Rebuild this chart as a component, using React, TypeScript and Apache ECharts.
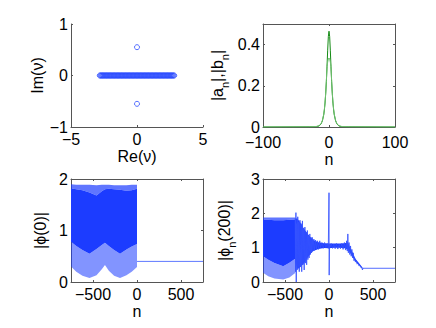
import React, { useEffect, useRef } from "react";
import * as echarts from "echarts";

// ---------- Data ----------
// Top-left: eigenvalues (real continuum + a complex pair)
const realEigRe = [
  -2.82, -2.76, -2.7, -2.64, -2.58, -2.52, -2.46, -2.4, -2.34, -2.28, -2.22, -2.16, -2.1, -2.04, -1.98,
  -1.92, -1.86, -1.8, -1.74, -1.68, -1.62, -1.56, -1.5, -1.44, -1.38, -1.32, -1.26, -1.2, -1.14, -1.08,
  -1.02, -0.96, -0.9, -0.84, -0.78, -0.72, -0.66, -0.6, -0.54, -0.48, -0.42, -0.36, -0.3, -0.24, -0.18,
  -0.12, -0.06, 0, 0.06, 0.12, 0.18, 0.24, 0.3, 0.36, 0.42, 0.48, 0.54, 0.6, 0.66, 0.72, 0.78, 0.84, 0.9,
  0.96, 1.02, 1.08, 1.14, 1.2, 1.26, 1.32, 1.38, 1.44, 1.5, 1.56, 1.62, 1.68, 1.74, 1.8, 1.86, 1.92, 1.98,
  2.04, 2.1, 2.16, 2.22, 2.28, 2.34, 2.4, 2.46, 2.52, 2.58, 2.64, 2.7, 2.76, 2.82,
];
const complexEigRe = [0, 0];
const complexEigIm = [0.55, -0.55];

// Top-right: |a_n|, |b_n|
const trN = [-100, -30, -20, -15, -12, -10, -8, -7, -6, -5, -4, -3, -2, -1, 0, 1, 2, 3, 4, 5, 6, 7, 8, 10, 12, 15, 20, 30, 100];
const absA = [0, 0.001, 0.001, 0.005, 0.015, 0.03, 0.059, 0.083, 0.116, 0.161, 0.22, 0.294, 0.373, 0.439, 0.465, 0.439, 0.373, 0.294, 0.22, 0.161, 0.116, 0.083, 0.059, 0.03, 0.015, 0.005, 0.001, 0.001, 0];
const absB = [0, 0.001, 0.002, 0.006, 0.017, 0.032, 0.062, 0.087, 0.12, 0.165, 0.224, 0.297, 0.315, 0.33, 0.335, 0.33, 0.315, 0.297, 0.224, 0.165, 0.12, 0.087, 0.062, 0.032, 0.017, 0.006, 0.002, 0.001, 0];

// Bottom-left: |phi(0)| envelopes of the dense oscillation (n <= 0) and the tail (n > 0)
const blN = [-750, -690, -620, -540, -460, -400, -364, -320, -260, -193, -120, -60, 0];
const blLightTop = [1.9, 1.89, 1.89, 1.89, 1.88, 1.89, 1.89, 1.89, 1.88, 1.88, 1.88, 1.89, 1.89];
const blDarkTop = [1.82, 1.8, 1.78, 1.74, 1.68, 1.76, 1.8, 1.81, 1.8, 1.79, 1.77, 1.78, 1.81];
const blDarkBottom = [0.78, 0.7, 0.62, 0.55, 0.64, 0.72, 0.76, 0.7, 0.62, 0.55, 0.63, 0.69, 0.74];
const blLightBottom = [0.3, 0.2, 0.12, 0.08, 0.13, 0.25, 0.33, 0.22, 0.12, 0.08, 0.13, 0.2, 0.29];
const blTailN = [0, 750];
const blTail = [0.4, 0.4];

// Bottom-right: |phi_n(200)|
const brN = [-750, -690, -620, -520, -450, -384];
const brLightTop = [1.88, 1.88, 1.88, 1.88, 1.88, 1.88];
const brDarkTop = [1.81, 1.81, 1.8, 1.8, 1.81, 1.82];
const brDarkBottom = [0.75, 0.65, 0.55, 0.46, 0.56, 0.68];
const brLightBottom = [0.27, 0.17, 0.1, 0.07, 0.13, 0.26];
const brCoreTop: [number, number][] = [
  [-384, 1.85], [-360, 1.85], [-330, 1.75], [-300, 1.62], [-270, 1.5], [-240, 1.4], [-210, 1.3],
  [-180, 1.22], [-120, 1.16], [-60, 1.13], [0, 1.12], [60, 1.12], [120, 1.12], [180, 1.13], [215, 1.16],
  [240, 1.0], [270, 0.85], [300, 0.68], [340, 0.55], [380, 0.42],
];
const brCoreBottom: [number, number][] = [
  [380, 0.38], [340, 0.5], [300, 0.6], [270, 0.72], [240, 0.85], [215, 0.95], [180, 0.98], [120, 1.0],
  [60, 1.0], [0, 0.98], [-60, 0.99], [-120, 0.96], [-180, 0.9], [-210, 0.82], [-240, 0.72], [-270, 0.6],
  [-300, 0.5], [-330, 0.42], [-360, 0.38], [-384, 0.6],
];
const brSpikeN = [
  -384, -380, -376, -372, -368, -362, -355, -350, -344, -338, -330, -324, -316, -310, -302, -296, -288, -282,
  -274, -268, -260, -254, -246, -240, -232, -226, -218, -212, -204, -198, -190, -182, -172, -164, -152, -144,
  -130, -120, -105, -95, -80, -65, -50, -35, -20, -8, 0, 2, 6, 10, 25, 40, 55, 70, 85, 100, 115, 130, 145, 160,
  175, 190, 200, 208, 214, 220, 228, 236, 245, 252, 260, 268, 276, 284, 292, 300, 310, 320, 330, 340, 352, 362,
  372, 380, 386, 392, 750,
];
const brSpikeV = [
  1.85, 0.3, 2.02, 0.0, 1.7, 0.35, 1.9, 0.4, 1.75, 0.3, 1.8, 0.45, 1.7, 0.3, 1.78, 0.5, 1.55, 0.35,
  1.6, 0.55, 1.45, 0.5, 1.5, 0.65, 1.35, 0.7, 1.4, 0.8, 1.3, 0.85, 1.3, 0.9, 1.25, 0.92, 1.22, 0.95,
  1.2, 0.95, 1.2, 1.0, 1.15, 0.98, 1.15, 1.0, 1.12, 0.98, 2.6, 0.2, 1.1, 1.0, 1.12, 0.98, 1.1, 0.97, 1.12, 0.96, 1.1, 0.97, 1.12, 0.95,
  1.15, 0.93, 1.2, 0.9, 1.4, 0.85, 1.15, 0.8, 1.05, 0.75, 0.95, 0.7, 0.85, 0.62, 0.7, 0.58, 0.62, 0.52, 0.55, 0.47, 0.48, 0.42,
  0.43, 0.35, 0.4, 0.4, 0.4,
];

// Tick values
const tlXTicks = [-5, 0, 5];
const tlYTicks = [-1, 0, 1];
const trXTicks = [-100, 0, 100];
const trYTicks = [0, 0.2, 0.4];
const botXTicks = [-500, 0, 500];
const blYTicks = [0, 1, 2];
const brYTicks = [0, 1, 2, 3];

// ---------- Styles ----------
const FONT = "'Liberation Sans', Arial, Helvetica, sans-serif";
const FS = 16;
const AX = "#555";
const BLUE = "#1c3cff";
const BLUE_LIGHT = "rgba(28,60,255,0.55)";
const BLUE_MID = "rgba(28,60,255,0.7)";

const fmt = (v: number) => String(v).replace("-", "\u2212");

function xAxis(grid: number, min: number, max: number, ticks: number[], pos: "bottom" | "top", name?: string, margin = 6) {
  return {
    type: "value",
    gridIndex: grid,
    position: pos,
    min,
    max,
    name: pos === "bottom" ? name : undefined,
    nameLocation: "middle",
    nameGap: 16,
    nameTextStyle: { fontFamily: FONT, fontSize: FS, color: "#000", verticalAlign: "top" },
    axisLine: { show: true, onZero: false, lineStyle: { color: AX, width: 1 } },
    axisTick: { show: true, inside: true, length: 2, customValues: ticks, lineStyle: { color: AX } },
    axisLabel: {
      show: pos === "bottom",
      customValues: ticks,
      margin,
      lineHeight: 13,
      color: "#000",
      fontFamily: FONT,
      fontSize: FS,
      formatter: fmt,
    },
    splitLine: { show: false },
  };
}

function yAxis(grid: number, min: number, max: number, ticks: number[], pos: "left" | "right", name?: string, gap = 20, rich?: any) {
  return {
    type: "value",
    gridIndex: grid,
    position: pos,
    min,
    max,
    name: pos === "left" ? name : undefined,
    nameLocation: "middle",
    nameGap: gap,
    nameRotate: 90,
    nameTextStyle: { fontFamily: FONT, fontSize: FS, color: "#000", rich },
    axisLine: { show: true, onZero: false, lineStyle: { color: AX, width: 1 } },
    axisTick: { show: true, inside: true, length: 2, customValues: ticks, lineStyle: { color: AX } },
    axisLabel: {
      show: pos === "left",
      customValues: ticks,
      margin: 3,
      lineHeight: 13,
      color: "#000",
      fontFamily: FONT,
      fontSize: FS,
      formatter: fmt,
    },
    splitLine: { show: false },
  };
}

type Band = { top: [number, number][]; bottom: [number, number][]; fill: string };

function zip(xs: number[], ys: number[]): [number, number][] {
  return xs.map((x, i) => [x, ys[i]] as [number, number]);
}

function bandSeries(xi: number, yi: number, bands: Band[]) {
  return {
    type: "custom",
    xAxisIndex: xi,
    yAxisIndex: yi,
    silent: true,
    clip: true,
    data: bands.map((b) => b.top[0]),
    renderItem: (params: any, api: any) => {
      const b = bands[params.dataIndex];
      const pts = b.top.map((p) => api.coord(p)).concat(b.bottom.map((p) => api.coord(p)));
      return { type: "polygon", shape: { points: pts }, style: { fill: b.fill } };
    },
  };
}

const SUB_RICH = {
  b: { fontFamily: FONT, fontSize: FS, color: "#000", verticalAlign: "top", lineHeight: 21 },
  sub: { fontFamily: FONT, fontSize: 11, color: "#000", verticalAlign: "bottom", lineHeight: 11 },
};

export default function App() {
  const ref = useRef<HTMLDivElement>(null);
  useEffect(() => {
    if (!ref.current) return;
    const chart = echarts.init(ref.current, undefined, { renderer: "svg" });

    const blBands: Band[] = [
      { top: zip(blN, blDarkBottom), bottom: zip(blN, blLightBottom).reverse(), fill: BLUE_LIGHT },
      { top: zip(blN, blDarkTop), bottom: zip(blN, blDarkBottom).reverse(), fill: BLUE },
      { top: zip(blN, blLightTop), bottom: zip(blN, blDarkTop).reverse(), fill: BLUE_MID },
    ];
    const brBands: Band[] = [
      { top: zip(brN, brDarkBottom), bottom: zip(brN, brLightBottom).reverse(), fill: BLUE_LIGHT },
      { top: zip(brN, brDarkTop), bottom: zip(brN, brDarkBottom).reverse(), fill: BLUE },
      { top: zip(brN, brLightTop), bottom: zip(brN, brDarkTop).reverse(), fill: BLUE_MID },
      { top: brCoreTop, bottom: brCoreBottom, fill: BLUE },
    ];

    const option: any = {
      animation: false,
      backgroundColor: "#fff",
      grid: [
        { left: 71, top: 24, width: 132, height: 103 },
        { left: 263, top: 24, width: 132, height: 103 },
        { left: 71, top: 179, width: 132, height: 103 },
        { left: 263, top: 179, width: 132, height: 103 },
      ],
      xAxis: [
        xAxis(0, -5, 5, tlXTicks, "bottom", "Re(\u03bd)"),
        xAxis(1, -100, 100, trXTicks, "bottom", "n", 9),
        xAxis(1, -100, 100, trXTicks, "top"),
        xAxis(2, -750, 750, botXTicks, "bottom", "n"),
        xAxis(2, -750, 750, botXTicks, "top"),
        xAxis(3, -750, 750, botXTicks, "bottom", "n"),
        xAxis(3, -750, 750, botXTicks, "top"),
      ],
      yAxis: [
        yAxis(0, -1, 1, tlYTicks, "left", "Im(\u03bd)", 25),
        yAxis(1, 0, 0.5, trYTicks, "left", "{b||a}{sub|n}{b||,|b}{sub|n}{b||}", 33, SUB_RICH),
        yAxis(1, 0, 0.5, trYTicks, "right"),
        yAxis(2, 0, 2, blYTicks, "left", "|\u03d5(0)|", 23),
        yAxis(2, 0, 2, blYTicks, "right"),
        yAxis(3, 0, 3, brYTicks, "left", "{b||\u03d5}{sub|n}{b|(200)|}", 26, SUB_RICH),
        yAxis(3, 0, 3, brYTicks, "right"),
      ],
      series: [
        {
          type: "scatter",
          xAxisIndex: 0,
          yAxisIndex: 0,
          symbol: "circle",
          symbolSize: 5,
          itemStyle: { color: "transparent", borderColor: "#2a4bff", borderWidth: 1 },
          data: realEigRe.map((r) => [r, 0]).concat(complexEigRe.map((r, i) => [r, complexEigIm[i]])),
        },
        {
          type: "line",
          xAxisIndex: 1,
          yAxisIndex: 1,
          showSymbol: false,
          lineStyle: { color: "#138a13", width: 1 },
          data: zip(trN, absA),
        },
        {
          type: "line",
          xAxisIndex: 1,
          yAxisIndex: 1,
          showSymbol: false,
          lineStyle: { color: "#6fbf6f", width: 1 },
          data: zip(trN, absB),
        },
        bandSeries(3, 3, blBands),
        {
          type: "line",
          xAxisIndex: 3,
          yAxisIndex: 3,
          showSymbol: false,
          lineStyle: { color: "#5f78ff", width: 1 },
          data: zip(blTailN, blTail),
        },
        bandSeries(5, 5, brBands),
        {
          type: "line",
          xAxisIndex: 5,
          yAxisIndex: 5,
          showSymbol: false,
          lineStyle: { color: "#3552ff", width: 1, opacity: 0.85 },
          data: zip(brSpikeN, brSpikeV),
        },
      ],
    };
    chart.setOption(option);
    return () => chart.dispose();
  }, []);
  return (
    <div
      ref={ref}
      style={{ position: "fixed", left: 0, top: 0, width: 436, height: 328, background: "#fff" }}
    />
  );
}
